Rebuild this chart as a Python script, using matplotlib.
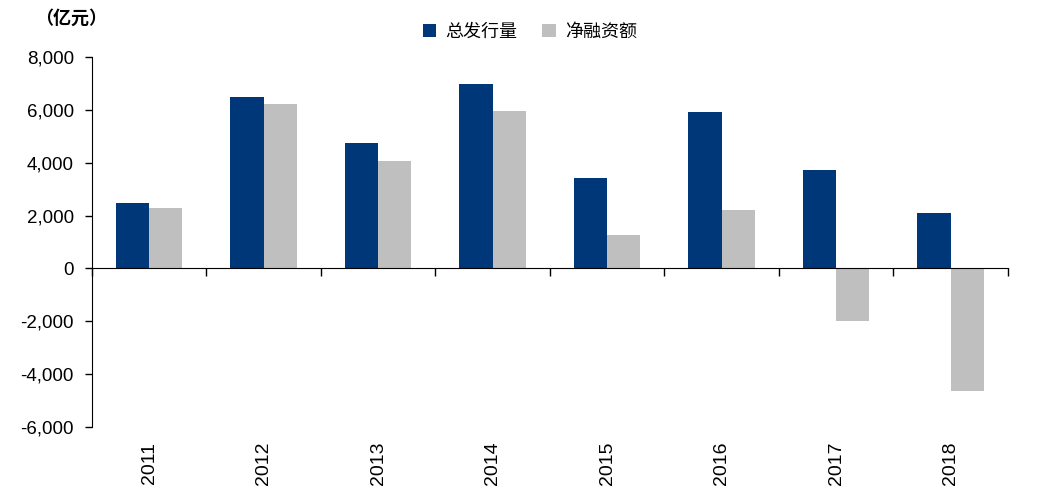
import numpy as np
import matplotlib
matplotlib.use('Agg')
import matplotlib.pyplot as plt
import matplotlib.transforms as mtransforms
from matplotlib.ticker import FuncFormatter

plt.rcParams['font.family'] = ['Liberation Sans', 'Noto Sans CJK SC', 'DejaVu Sans']

years = ['2011', '2012', '2013', '2014', '2015', '2016', '2017', '2018']
issuance = [2470, 6500, 4740, 6980, 3410, 5920, 3720, 2090]
net_financing = [2280, 6220, 4060, 5950, 1250, 2200, -1970, -4630]
series_names = ['总发行量', '净融资额']
navy = '#003778'
grey = '#bfbfbf'

fig = plt.figure(figsize=(10.51, 4.88), dpi=100)
ax = fig.add_axes([0.0875, 0.125, 0.8715, 0.758])

x = np.arange(len(years))
w = 0.29
ax.bar(x - w / 2, issuance, w, color=navy, label=series_names[0])
ax.bar(x + w / 2, net_financing, w, color=grey, label=series_names[1])

ax.set_xlim(-0.5, len(years) - 0.5)
ax.set_ylim(-6000, 8000)
ax.set_yticks(np.arange(-6000, 8001, 2000))
ax.yaxis.set_major_formatter(FuncFormatter(lambda v, p: f'{int(v):,}'))
ax.tick_params(axis='y', direction='out', length=5, width=1, labelsize=13.5, pad=8)

# x axis sits at zero, ticks between groups
ax.spines['bottom'].set_position(('data', 0))
ax.spines['top'].set_visible(False)
ax.spines['right'].set_visible(False)
ax.set_xticks(np.arange(-0.5, len(years), 1.0))
ax.set_xticklabels([])
ax.tick_params(axis='x', direction='out', length=6, width=1)

trans = mtransforms.blended_transform_factory(ax.transData, ax.transAxes)
for i, yr in enumerate(years):
    ax.text(i, -0.04, yr, transform=trans, rotation=90, ha='center', va='top', fontsize=14)

ax.legend(loc='center', bbox_to_anchor=(0.478, 1.068), ncol=2, frameon=False,
          handlelength=0.75, handleheight=0.75, handletextpad=0.5,
          columnspacing=1.4, prop={'family': ['Noto Sans CJK SC'], 'size': 13})

fig.text(0.033, 0.962, '（亿元）', fontsize=13, fontweight='bold', ha='left', va='center',
         family=['Noto Sans CJK SC'])

fig.savefig('out.png', dpi=100)
